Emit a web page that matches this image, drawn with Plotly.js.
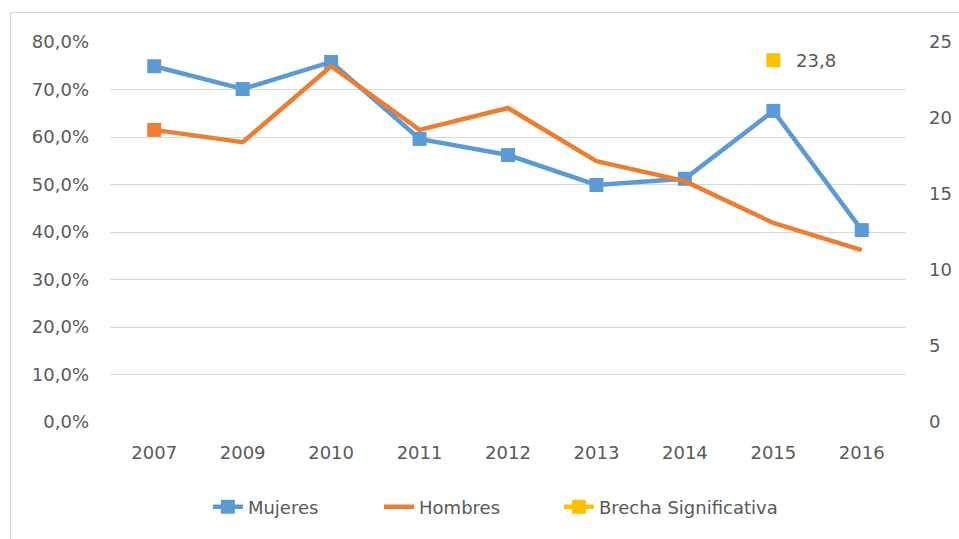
<!DOCTYPE html>
<html>
<head>
<meta charset="utf-8">
<script src="https://cdn.plot.ly/plotly-3.0.1.min.js"></script>
<style>
  html, body { margin: 0; padding: 0; background: #fff; overflow: hidden; }
  #wrap { position: relative; width: 959px; height: 539px; }
  #chart { position: absolute; left: 0; top: 0; width: 959px; height: 539px; }
  #frame { position: absolute; left: 10px; top: 12px; width: 960px; height: 540px;
           border: 1px solid #d9d9d9; pointer-events: none; }
</style>
</head>
<body>
<div id="wrap"><div id="chart"></div><div id="frame"></div></div>
<script>
const years = ['2007','2009','2010','2011','2012','2013','2014','2015','2016'];
const mujeres = [0.749, 0.701, 0.758, 0.596, 0.562, 0.499, 0.512, 0.655, 0.404];
const hombres = [0.615, 0.589, 0.749, 0.615, 0.661, 0.549, 0.507, 0.419, 0.362];
const brechaYear = ['2015'];
const brechaValue = [23.8];
const brechaLabel = ['23,8'];
const leftTicks = [0, 0.1, 0.2, 0.3, 0.4, 0.5, 0.6, 0.7, 0.8];
const rightTicks = [0, 5, 10, 15, 20, 25];

const FONT = 'DejaVu Sans, Open Sans, sans-serif';
const FS = 18;
const TXT = '#595959';
const BLUE = '#5B9BD5', ORANGE = '#ED7D31', YELLOW = '#FFC000';

const traces = [
  {
    x: years, y: mujeres, name: 'Mujeres', type: 'scatter', mode: 'lines+markers',
    line: {color: BLUE, width: 4.5}, marker: {color: BLUE, symbol: 'square', size: 14},
    yaxis: 'y', legend: 'legend'
  },
  {
    x: years, y: hombres, name: 'Hombres', type: 'scatter', mode: 'lines',
    line: {color: ORANGE, width: 4.5}, yaxis: 'y', legend: 'legend2'
  },
  {
    x: [years[0]], y: [hombres[0]], name: 'Hombres', type: 'scatter', mode: 'markers',
    marker: {color: ORANGE, symbol: 'square', size: 14}, showlegend: false, yaxis: 'y'
  },
  {
    x: brechaYear, y: brechaValue, name: 'Brecha Significativa', type: 'scatter',
    mode: 'lines+markers',
    line: {color: YELLOW, width: 4.5}, marker: {color: YELLOW, symbol: 'square', size: 14},
    yaxis: 'y2', legend: 'legend3'
  }
];

const legBase = {orientation: 'h', y: -0.224, yanchor: 'middle', xanchor: 'left',
                 font: {family: FONT, size: FS, color: TXT}, itemwidth: 30,
                 bgcolor: 'rgba(0,0,0,0)'};

const layout = {
  width: 959, height: 539,
  margin: {l: 110, r: 53, t: 42, b: 117},
  paper_bgcolor: '#ffffff', plot_bgcolor: '#ffffff',
  separators: ',.',
  font: {family: FONT, size: FS, color: TXT},
  showlegend: true,
  legend: Object.assign({}, legBase, {x: 0.123}),
  legend2: Object.assign({}, legBase, {x: 0.338}),
  legend3: Object.assign({}, legBase, {x: 0.564}),
  annotations: [{
    x: years.indexOf(brechaYear[0]), y: brechaValue[0], xref: 'x', yref: 'y2',
    text: brechaLabel[0],
    showarrow: false, xanchor: 'left', yanchor: 'middle', xshift: 21,
    font: {family: FONT, size: FS, color: TXT}
  }],
  xaxis: {
    type: 'category', categoryorder: 'array', categoryarray: years, range: [-0.5, 8.5],
    showgrid: false, zeroline: false, showline: false, ticks: '',
    ticklabelstandoff: 18, tickfont: {family: FONT, size: FS, color: TXT}
  },
  yaxis: {
    range: [0, 0.8], tickvals: leftTicks, tickformat: '.1%',
    showgrid: true, gridcolor: '#d9d9d9', gridwidth: 1, zeroline: false,
    showline: false, ticks: '', ticklabelstandoff: 20,
    tickfont: {family: FONT, size: FS, color: TXT}
  },
  yaxis2: {
    overlaying: 'y', side: 'right', range: [0, 25], tickvals: rightTicks,
    showgrid: false, zeroline: false, showline: false, ticks: '', ticklabelstandoff: 22,
    tickfont: {family: FONT, size: FS, color: TXT}
  }
};

Plotly.newPlot('chart', traces, layout, {displayModeBar: false, staticPlot: true});
</script>
</body>
</html>
